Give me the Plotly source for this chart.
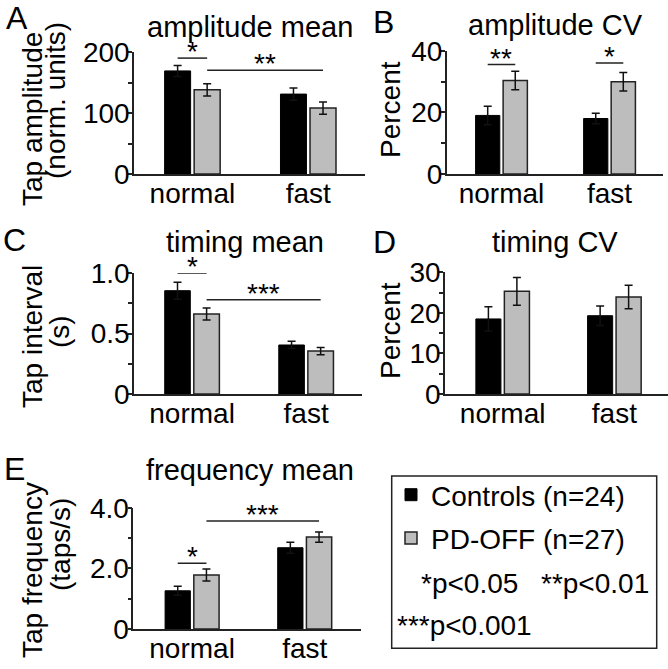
import plotly.graph_objects as go

# ---- data ----
conditions = ["normal", "fast"]

amp_mean_ctrl = [169, 131]
amp_mean_ctrl_err = [9, 10]
amp_mean_pd = [138, 108]
amp_mean_pd_err = [10, 10]

amp_cv_ctrl = [19.0, 18.0]
amp_cv_ctrl_err = [3.0, 1.7]
amp_cv_pd = [30.3, 29.9]
amp_cv_pd_err = [3.0, 3.0]

timing_mean_ctrl = [0.856, 0.406]
timing_mean_ctrl_err = [0.07, 0.03]
timing_mean_pd = [0.663, 0.356]
timing_mean_pd_err = [0.05, 0.03]

timing_cv_ctrl = [18.5, 19.3]
timing_cv_ctrl_err = [3.0, 2.4]
timing_cv_pd = [25.3, 23.9]
timing_cv_pd_err = [3.4, 2.9]

freq_ctrl = [1.26, 2.68]
freq_ctrl_err = [0.15, 0.18]
freq_pd = [1.78, 3.03]
freq_pd_err = [0.20, 0.17]

# significance: (cat a, group a, cat b, group b, y, label)   group 0=ctrl, 1=PD
sig_a = [(0, 0, 0, 1, 190, "*"), (0, 1, 1, 1, 170, "**")]
sig_b = [(0, 0, 0, 1, 35.5, "**"), (1, 0, 1, 1, 36, "*")]
sig_c = [(0, 0, 0, 1, 1.0, "*"), (0, 1, 1, 1, 0.78, "***")]
sig_e = [(0, 0, 0, 1, 2.17, "*"), (0, 1, 1, 1, 3.56, "***")]

W, H = 668, 669
FONT = "Liberation Sans, Arial, sans-serif"
FS = 28
CTRL_COLOR = "#000000"
PD_COLOR = "#bdbdbd"
LINE = "#222222"
BARGAP = 0.49
GROUPGAP = 0.12


def px(x):
    return x / W


def py(y):
    return 1 - y / H


# panel geometry in pixels: x0, x1, ytop, ybottom, xrange
panels = [
    dict(ctrl=amp_mean_ctrl, ce=amp_mean_ctrl_err, pd=amp_mean_pd, pe=amp_mean_pd_err,
         box=(134, 365, 52, 174), xr=[-0.504, 1.49], yr=[0, 200],
         tv=[0, 100, 200], tt=["0", "100", "200"], minor=50, sig=sig_a),
    dict(ctrl=amp_cv_ctrl, ce=amp_cv_ctrl_err, pd=amp_cv_pd, pe=amp_cv_pd_err,
         box=(446.7, 663, 50.7, 174), xr=[-0.507, 1.495], yr=[0, 40],
         tv=[0, 20, 40], tt=["0", "20", "40"], minor=10, sig=sig_b),
    dict(ctrl=timing_mean_ctrl, ce=timing_mean_ctrl_err, pd=timing_mean_pd, pe=timing_mean_pd_err,
         box=(134, 362, 273.3, 394), xr=[-0.509, 1.49], yr=[0, 1.0],
         tv=[0, 0.5, 1.0], tt=["0", "0.5", "1.0"], minor=0.25, sig=sig_c),
    dict(ctrl=timing_cv_ctrl, ce=timing_cv_ctrl_err, pd=timing_cv_pd, pe=timing_cv_pd_err,
         box=(445, 668, 272.3, 394), xr=[-0.516, 1.48], yr=[0, 30],
         tv=[0, 10, 20, 30], tt=["0", "10", "20", "30"], minor=5, sig=[]),
    dict(ctrl=freq_ctrl, ce=freq_ctrl_err, pd=freq_pd, pe=freq_pd_err,
         box=(133.3, 361, 507.7, 629), xr=[-0.522, 1.5], yr=[0, 4],
         tv=[0, 2, 4], tt=["0", "2.0", "4.0"], minor=1, sig=sig_e),
]

fig = go.Figure()
shapes = []
annotations = []
slot = (1 - BARGAP) / 2


def txt(**kw):
    base = dict(showarrow=False, xanchor="center", yanchor="middle",
                font=dict(family=FONT, size=FS, color="#000"))
    base.update(kw)
    return base


for i, p in enumerate(panels):
    n = "" if i == 0 else str(i + 1)
    xa, ya = "x" + n, "y" + n
    err_style = dict(type="data", color="#111111", thickness=1.5, width=4)
    fig.add_trace(go.Bar(
        x=conditions, y=p["ctrl"], name="Controls (n=24)", xaxis=xa, yaxis=ya,
        marker=dict(color=CTRL_COLOR, line=dict(color="#000000", width=1)),
        error_y=dict(array=p["ce"], **err_style), showlegend=(i == 0), legendgroup="c"))
    fig.add_trace(go.Bar(
        x=conditions, y=p["pd"], name="PD-OFF (n=27)", xaxis=xa, yaxis=ya,
        marker=dict(color=PD_COLOR, line=dict(color=LINE, width=1.5)),
        error_y=dict(array=p["pe"], **err_style), showlegend=(i == 0), legendgroup="p"))

    x0, x1, yt, yb = p["box"]
    axis_common = dict(showline=True, linecolor=LINE, linewidth=1.5, showgrid=False,
                       zeroline=False, automargin=False,
                       tickfont=dict(family=FONT, size=FS, color="#000"))
    fig.update_layout(**{
        "xaxis" + n: dict(domain=[px(x0), px(x1)], range=p["xr"], type="category",
                          anchor=ya, ticks="", ticklabelstandoff=-6, **axis_common),
        "yaxis" + n: dict(domain=[py(yb), py(yt)], range=p["yr"], anchor=xa,
                          tickmode="array", tickvals=p["tv"], ticktext=p["tt"],
                          ticks="outside", ticklen=4, tickwidth=1.5, tickcolor=LINE,
                          ticklabelstandoff=-7,
                          minor=dict(ticks="outside", ticklen=4, tickwidth=1.5,
                                     tickcolor=LINE, dtick=p["minor"], tick0=0),
                          **axis_common),
    })

    for ca, ga, cb, gb, yv, lab in p["sig"]:
        xa_pos = ca + (ga - 0.5) * slot
        xb_pos = cb + (gb - 0.5) * slot
        shapes.append(dict(type="line", xref=xa, yref=ya, x0=xa_pos, x1=xb_pos,
                           y0=yv, y1=yv, line=dict(color=LINE, width=1.5)))
        annotations.append(txt(xref=xa, yref=ya, x=(xa_pos + xb_pos) / 2, y=yv,
                               text=lab, yanchor="bottom", yshift=-11))

# panel titles
titles = [("amplitude mean", 250, 27), ("amplitude CV", 555, 25), ("timing mean", 245, 242),
          ("timing CV", 555, 242), ("frequency mean", 250, 470)]
for t, x, y in titles:
    annotations.append(txt(xref="paper", yref="paper", x=px(x), y=py(y), text=t,
                           font=dict(family=FONT, size=29, color="#000")))

# panel letters
letters = [("A", 17, 18), ("B", 383, 22), ("C", 14, 240), ("D", 384, 242), ("E", 14, 469)]
for t, x, y in letters:
    annotations.append(txt(xref="paper", yref="paper", x=px(x), y=py(y), text=t,
                           font=dict(family=FONT, size=32, color="#000")))

# y-axis titles
ytitles = [("Tap amplitude", 32, 119), ("(norm. units)", 55, 101), ("Percent", 391, 110),
           ("Tap interval", 32, 337), ("(s)", 59, 332), ("Percent", 391, 331),
           ("Tap frequency", 32, 570), ("(taps/s)", 60, 545)]
for t, x, y in ytitles:
    annotations.append(txt(xref="paper", yref="paper", x=px(x), y=py(y), text=t,
                           textangle=-90))

# legend box with p-value notes
shapes.append(dict(type="rect", xref="paper", yref="paper", x0=px(391.7), x1=px(656.7),
                   y0=py(648.3), y1=py(476), line=dict(color=LINE, width=1.5)))
notes = [("*p&lt;0.05", 419, 583), ("**p&lt;0.01", 539, 583), ("***p&lt;0.001", 395, 625)]
for t, x, y in notes:
    annotations.append(txt(xref="paper", yref="paper", x=px(x), y=py(y), text=t,
                           xanchor="left"))

fig.update_layout(
    width=W, height=H, margin=dict(l=0, r=0, t=0, b=0, autoexpand=False),
    paper_bgcolor="white", plot_bgcolor="white",
    barmode="group", bargap=BARGAP, bargroupgap=GROUPGAP,
    font=dict(family=FONT, size=FS, color="#000"),
    shapes=shapes, annotations=annotations,
    legend=dict(x=px(391), y=py(470), xanchor="left", yanchor="top", tracegroupgap=4,
                bgcolor="rgba(0,0,0,0)", font=dict(family=FONT, size=FS, color="#000")),
)

fig.write_html("out.html", config={"displayModeBar": False},
               post_script="document.body.style.margin='0';")
